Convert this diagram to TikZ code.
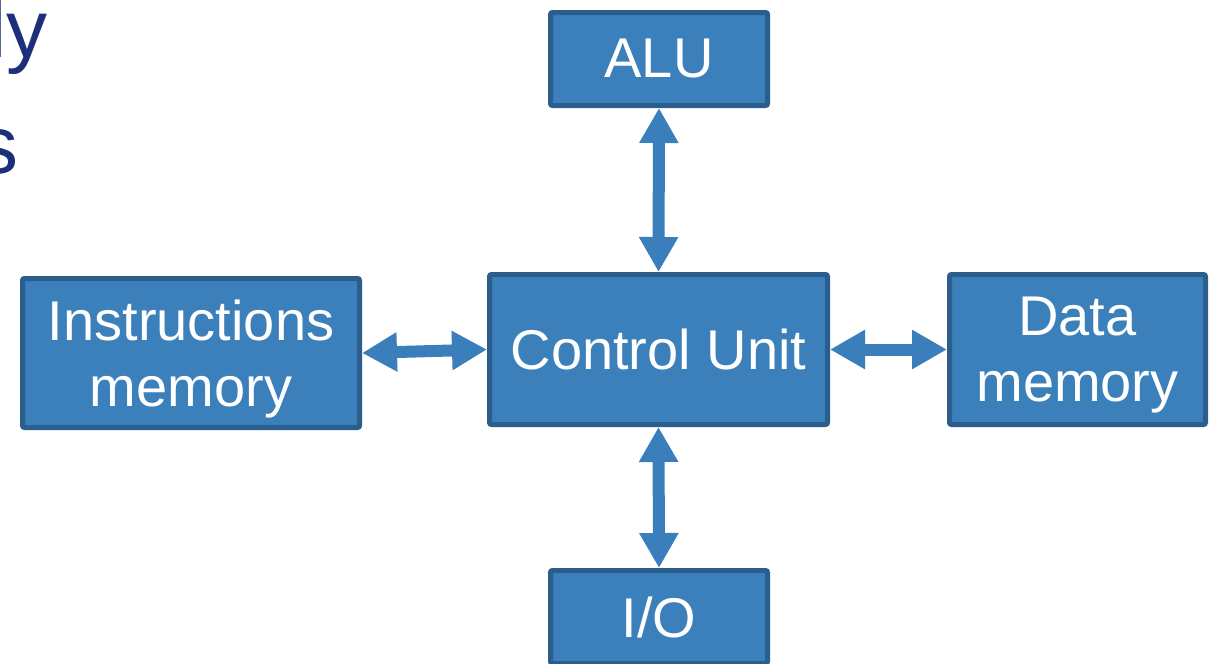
\documentclass[tikz,border=0pt]{standalone}
\usepackage{fontspec}
\setmainfont{Liberation Sans}
\usetikzlibrary{arrows.meta}
\definecolor{boxfill}{HTML}{3B80BB}
\definecolor{boxline}{HTML}{2B5E8C}
\definecolor{linkblue}{HTML}{3A7EBC}
\definecolor{titlenavy}{HTML}{1D2E7B}
\begin{document}
\begin{tikzpicture}[x=1pt,y=-1pt,
  unit/.style={draw=boxline, fill=boxfill, line width=5pt, rounded corners=2pt,
    inner sep=0pt, text=white, align=center,
    font=\fontsize{56}{67}\selectfont},
  caption/.style={inner sep=0pt, text=white, align=center,
    font=\fontsize{56}{66}\selectfont},
  link/.style={draw=linkblue, line width=12pt,
    {Triangle[width=37pt,length=35pt]}-{Triangle[width=37pt,length=35pt]}},
  heading/.style={text=titlenavy, inner sep=0pt, anchor=base east,
    font=\fontsize{82}{98}\selectfont}]
\useasboundingbox (0,0) rectangle (1216,664);
\clip (0,0) rectangle (1216,664);

% tail of the slide heading, cut at the left edge
\node[heading] (hd1) at (48,57) {ly};
\node[heading] (hd2) at (19,173) {s};

% processor blocks
\node[unit, minimum width=217pt, minimum height=93pt] (alu) at (659,59) {ALU};
\node[unit, minimum width=338pt, minimum height=150pt] (cu) at (658.5,349.5) {Control Unit};
\node[unit, minimum width=337pt, minimum height=149pt] (imem) at (191,353) {};
\node[unit, minimum width=256pt, minimum height=150pt] (dmem) at (1077.5,349.5) {};
\node[unit, minimum width=217pt, minimum height=93pt] (io) at (659,617) {I/O};

% two-line captions, centred on their caps rather than their descenders
\node[caption, yshift=-6pt] (imemtext) at (imem.center) {Instructions\\memory};
\node[caption, yshift=-6pt] (dmemtext) at (dmem.center) {Data\\memory};

% two-way links to the control unit
\draw[link] (alu.south) -- (cu.north);
\draw[link] (imem.east) -- (cu.west);
\draw[link] (cu.east) -- (dmem.west);
\draw[link] (cu.south) -- (io.north);
\end{tikzpicture}
\end{document}
